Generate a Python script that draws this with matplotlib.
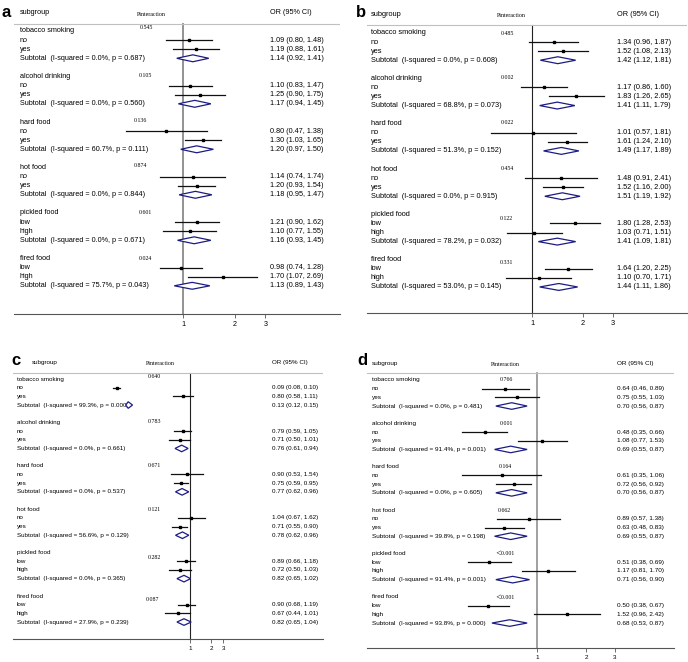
import numpy as np
import matplotlib
matplotlib.use("Agg")
import matplotlib.pyplot as plt
from matplotlib.patches import Polygon

# ---------------- data ----------------
groups = ["tobacco smoking", "alcohol drinking", "hard food", "hot food", "pickled food", "fired food"]
levels = [["no", "yes"], ["no", "yes"], ["no", "yes"], ["no", "yes"], ["low", "high"], ["low", "high"]]

# panel a
a_pint = ["0.545", "0.105", "0.136", "0.874", "0.601", "0.024"]
a_est = [[1.09, 1.19], [1.10, 1.25], [0.80, 1.30], [1.14, 1.20], [1.21, 1.10], [0.98, 1.70]]
a_lo = [[0.80, 0.88], [0.83, 0.90], [0.47, 1.03], [0.74, 0.93], [0.90, 0.77], [0.74, 1.07]]
a_hi = [[1.48, 1.61], [1.47, 1.75], [1.38, 1.65], [1.74, 1.54], [1.62, 1.55], [1.28, 2.69]]
a_sub = [[1.14, 0.92, 1.41], [1.17, 0.94, 1.45], [1.20, 0.97, 1.50], [1.18, 0.95, 1.47], [1.16, 0.93, 1.45], [1.13, 0.89, 1.43]]
a_i2 = ["0.0", "0.0", "60.7", "0.0", "0.0", "75.7"]
a_psub = ["0.687", "0.560", "0.111", "0.844", "0.671", "0.043"]

# panel b
b_pint = ["0.485", "0.002", "0.022", "0.454", "0.122", "0.331"]
b_est = [[1.34, 1.52], [1.17, 1.83], [1.01, 1.61], [1.48, 1.52], [1.80, 1.03], [1.64, 1.10]]
b_lo = [[0.96, 1.08], [0.86, 1.26], [0.57, 1.24], [0.91, 1.16], [1.28, 0.71], [1.20, 0.70]]
b_hi = [[1.87, 2.13], [1.60, 2.65], [1.81, 2.10], [2.41, 2.00], [2.53, 1.51], [2.25, 1.71]]
b_sub = [[1.42, 1.12, 1.81], [1.41, 1.11, 1.79], [1.49, 1.17, 1.89], [1.51, 1.19, 1.92], [1.41, 1.09, 1.81], [1.44, 1.11, 1.86]]
b_i2 = ["0.0", "68.8", "51.3", "0.0", "78.2", "53.0"]
b_psub = ["0.608", "0.073", "0.152", "0.915", "0.032", "0.145"]

# panel c
c_pint = ["0.640", "0.783", "0.671", "0.121", "0.282", "0.087"]
c_est = [[0.09, 0.80], [0.79, 0.71], [0.90, 0.75], [1.04, 0.71], [0.89, 0.72], [0.90, 0.67]]
c_lo = [[0.08, 0.58], [0.59, 0.50], [0.53, 0.59], [0.67, 0.55], [0.66, 0.50], [0.68, 0.44]]
c_hi = [[0.10, 1.11], [1.05, 1.01], [1.54, 0.95], [1.62, 0.90], [1.18, 1.03], [1.19, 1.01]]
c_sub = [[0.13, 0.12, 0.15], [0.76, 0.61, 0.94], [0.77, 0.62, 0.96], [0.78, 0.62, 0.96], [0.82, 0.65, 1.02], [0.82, 0.65, 1.04]]
c_i2 = ["99.3", "0.0", "0.0", "56.6", "0.0", "27.9"]
c_psub = ["0.000", "0.661", "0.537", "0.129", "0.365", "0.239"]

# panel d
d_pint = ["0.766", "0.001", "0.164", "0.662", "\uff1c0.001", "\uff1c0.001"]
d_est = [[0.64, 0.75], [0.48, 1.08], [0.61, 0.72], [0.89, 0.63], [0.51, 1.17], [0.50, 1.52]]
d_lo = [[0.46, 0.55], [0.35, 0.77], [0.35, 0.56], [0.57, 0.48], [0.38, 0.81], [0.38, 0.96]]
d_hi = [[0.89, 1.03], [0.66, 1.53], [1.06, 0.92], [1.38, 0.83], [0.69, 1.70], [0.67, 2.42]]
d_sub = [[0.70, 0.56, 0.87], [0.69, 0.55, 0.87], [0.70, 0.56, 0.87], [0.69, 0.55, 0.87], [0.71, 0.56, 0.90], [0.68, 0.53, 0.87]]
d_i2 = ["0.0", "91.4", "0.0", "39.8", "91.4", "93.8"]
d_psub = ["0.481", "0.001", "0.605", "0.198", "0.001", "0.000"]

xticks = [1, 2, 3]

# ---------------- layout (pixels) ----------------
W, H = 688, 662
layouts = {
    "a": dict(x1=183, s=75.0, xL=14, xR=340, row0=31, dy=9.1, axis_y=314, head_y=13, rule_y=24,
              lab_x=20, head_lab_x=20, pint_head_x=151, or_x=270, let_x=2, let_y=17,
              pint_x=[146, 145, 140, 140, 145, 145], pint_dy=[-0.35, -0.15, -0.2, -0.2, 0.0, 0.0],
              vcol="#8a8a8a", vlw=1.3, fs=5.2, pfs=4.2),
    "b": dict(x1=532, s=73.6, xL=367, xR=687, row0=33, dy=9.07, axis_y=313, head_y=14, rule_y=25,
              lab_x=371, head_lab_x=371, pint_head_x=511, or_x=617, let_x=356, let_y=17,
              pint_x=[507, 507, 507, 507, 506, 506], pint_dy=[0.1, -0.1, -0.1, -0.1, 0.45, 0.35],
              vcol="#222222", vlw=0.8, fs=5.3, pfs=4.2),
    "c": dict(x1=190, s=30.3, xL=13, xR=323, row0=379, dy=8.68, axis_y=639, head_y=362, rule_y=373,
              lab_x=17, head_lab_x=32, pint_head_x=160, or_x=272, let_x=11, let_y=365,
              pint_x=[154, 154, 154, 154, 154, 153], pint_dy=[-0.25, -0.1, 0.0, 0.0, 0.55, 0.35],
              vcol="#222222", vlw=0.8, fs=4.5, pfs=4.2),
    "d": dict(x1=537, s=71.0, xL=367, xR=674, row0=380, dy=8.68, axis_y=648, head_y=363, rule_y=373,
              lab_x=372, head_lab_x=372, pint_head_x=505, or_x=617, let_x=357, let_y=365,
              pint_x=[506, 506, 505, 504, 505, 505], pint_dy=[-0.1, 0.0, 0.0, 0.0, 0.0, 0.0],
              vcol="#999999", vlw=1.3, fs=4.6, pfs=4.2),
}
panels = {
    "a": (a_pint, a_est, a_lo, a_hi, a_sub, a_i2, a_psub),
    "b": (b_pint, b_est, b_lo, b_hi, b_sub, b_i2, b_psub),
    "c": (c_pint, c_est, c_lo, c_hi, c_sub, c_i2, c_psub),
    "d": (d_pint, d_est, d_lo, d_hi, d_sub, d_i2, d_psub),
}

SANS = "Liberation Sans"
SERIF = ["Liberation Serif", "Noto Sans CJK SC"]
NAVY = "#1c1c84"

fig = plt.figure(figsize=(W / 100, H / 100), dpi=100)

for key, L in layouts.items():
    pint, est, lo, hi, sub, i2, psub = panels[key]
    top_px = L["head_y"] - 8
    ax = fig.add_axes([L["xL"] / W, 1 - L["axis_y"] / H,
                       (L["xR"] - L["xL"]) / W, (L["axis_y"] - top_px) / H])
    ax.set_xscale("log")
    ax.set_xlim(np.exp((L["xL"] - L["x1"]) / L["s"]), np.exp((L["xR"] - L["x1"]) / L["s"]))
    row_of = lambda px: (px - L["row0"]) / L["dy"]
    ax.set_ylim(row_of(L["axis_y"]), row_of(top_px))
    fx = lambda px: (px - L["xL"]) / (L["xR"] - L["xL"])
    tr = ax.get_yaxis_transform()

    for sp in ["top", "right", "left"]:
        ax.spines[sp].set_visible(False)
    ax.spines["bottom"].set_color("#555555")
    ax.spines["bottom"].set_linewidth(0.8)
    ax.set_yticks([])
    ax.xaxis.set_minor_locator(matplotlib.ticker.NullLocator())
    ax.set_xticks(xticks)
    ax.set_xticklabels([str(t) for t in xticks], fontsize=L["fs"], family=SANS)
    ax.tick_params(axis="x", length=3, width=0.6, color="#555555", pad=2)

    # header
    hr = row_of(L["head_y"])
    ax.text(fx(L["head_lab_x"]), hr, "subgroup", transform=tr, fontsize=L["fs"], family=SANS, va="center")
    ax.text(fx(L["pint_head_x"]), hr + 0.2, "Pinteraction", transform=tr, fontsize=L["pfs"],
            family=SERIF, va="center", ha="center")
    ax.text(fx(L["or_x"]), hr, "OR (95% CI)", transform=tr, fontsize=L["fs"], family=SANS, va="center")
    rr = row_of(L["rule_y"])
    ax.axhline(rr, color="#c0c0c0", lw=0.8)
    ax.plot([1, 1], [rr, row_of(L["axis_y"])], color=L["vcol"], lw=L["vlw"], zorder=1)

    for g, name in enumerate(groups):
        r0 = g * 5
        ax.text(fx(L["lab_x"]), r0, name, transform=tr, fontsize=L["fs"], family=SANS, va="center")
        ax.text(fx(L["pint_x"][g]), r0 + L["pint_dy"][g], pint[g], transform=tr, fontsize=L["pfs"],
                family=SERIF, va="center", ha="center")
        for k in range(2):
            r = r0 + 1 + k
            ax.text(fx(L["lab_x"]), r, levels[g][k], transform=tr, fontsize=L["fs"], family=SANS, va="center")
            ax.plot([lo[g][k], hi[g][k]], [r, r], color="#111111", lw=0.9, zorder=3)
            ax.plot([est[g][k]], [r], marker="s", ms=1.5, color="black", zorder=4)
            ax.text(fx(L["or_x"]), r, f"{est[g][k]:.2f} ({lo[g][k]:.2f}, {hi[g][k]:.2f})",
                    transform=tr, fontsize=L["fs"], family=SANS, va="center")
        r = r0 + 3
        ax.text(fx(L["lab_x"]), r, f"Subtotal  (I-squared = {i2[g]}%, p = {psub[g]})", transform=tr,
                fontsize=L["fs"], family=SANS, va="center")
        e, l, h = sub[g]
        hh = 0.38
        ax.add_patch(Polygon([(l, r), (e, r - hh), (h, r), (e, r + hh)], closed=True,
                             facecolor="white", edgecolor=NAVY, lw=0.9, zorder=5))
        ax.text(fx(L["or_x"]), r, f"{e:.2f} ({l:.2f}, {h:.2f})", transform=tr,
                fontsize=L["fs"], family=SANS, va="center")

    fig.text(L["let_x"] / W, 1 - L["let_y"] / H, key, fontsize=12, fontweight="bold",
             family=SANS, va="baseline", ha="left")

fig.savefig("out.png", dpi=100)
